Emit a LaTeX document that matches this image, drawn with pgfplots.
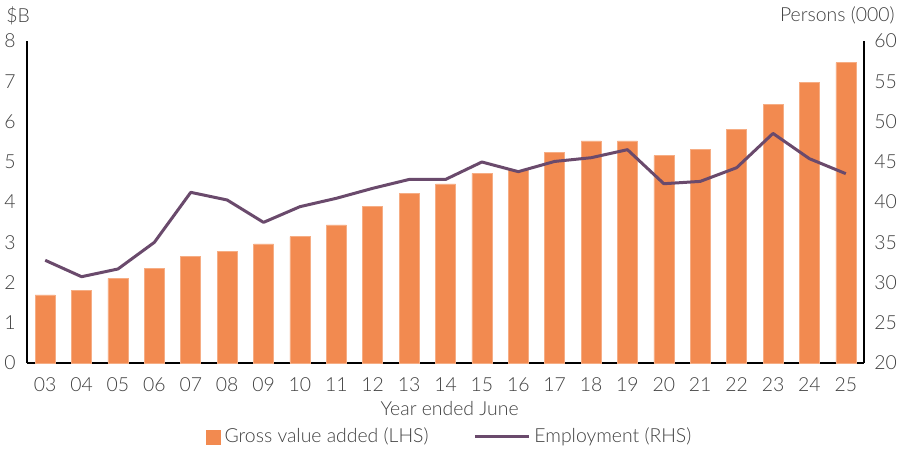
\documentclass[border=0pt]{standalone}
\usepackage{fontspec}
\setmainfont{Lato}[UprightFont={* Light}]
\usepackage{pgfplots}
\pgfplotsset{compat=1.18}
\usepackage{pgfplotstable}

\definecolor{gvaorange}{HTML}{F28A50}
\definecolor{emppurple}{HTML}{6A4A6C}
\definecolor{labelgrey}{HTML}{404040}

% Year ended June: x = 0 for 2003 ... 22 for 2025
% gva = gross value added ($B), emp = employment (persons, 000)
\pgfplotstableread{
x  gva   emp
0  1.69  32.76
1  1.80  30.72
2  2.10  31.68
3  2.35  34.99
4  2.65  41.20
5  2.78  40.25
6  2.96  37.47
7  3.14  39.42
8  3.43  40.46
9  3.90  41.70
10 4.22  42.80
11 4.45  42.80
12 4.71  44.97
13 4.78  43.77
14 5.23  45.04
15 5.52  45.50
16 5.52  46.50
17 5.15  42.27
18 5.30  42.56
19 5.80  44.26
20 6.43  48.52
21 6.98  45.38
22 7.46  43.52
}\datatable

\newcommand{\chartfont}{\fontsize{9.7}{11.5}\selectfont}

\begin{document}
\chartfont
\begin{tikzpicture}
\path[use as bounding box] (0,0) rectangle (450pt,225pt);

\pgfplotsset{
  common/.style={
    scale only axis,
    width=418.5pt, height=161pt,
    at={(13.5pt,43.5pt)}, anchor=south west,
    xmin=-0.5, xmax=22.5,
    major tick length=0pt,
    axis line style={black, line width=0.85pt},
    tick label style={font=\chartfont, text=labelgrey},
    /pgf/number format/assume math mode=true,
  }
}

\begin{axis}[
  common,
  ymin=0, ymax=8,
  ytick={0,1,...,8},
  axis y line*=left,
  axis x line*=bottom,
  xtick=data,
  xticklabels={03,04,05,06,07,08,09,10,11,12,13,14,15,16,17,18,19,20,21,22,23,24,25},
  xticklabel style={yshift=-3.8pt},
  yticklabel style={xshift=-2.25pt},
  ybar, bar width=10pt,
  clip=false,
]
\addplot[fill=gvaorange, draw=gvaorange!70!white, line width=0.3pt] table[x=x, y=gva] {\datatable};
\node[anchor=base west, text=labelgrey, inner sep=0pt] at (axis description cs:-0.0251,1.056) {\$B};
\node[anchor=base, text=labelgrey, inner sep=0pt] at (axis description cs:0.505,-0.1615) {Year ended June};
\end{axis}

\begin{axis}[
  common,
  ymin=20, ymax=60,
  ytick={20,25,...,60},
  axis y line*=right,
  axis x line=none,
  yticklabel style={xshift=1.75pt},
  clip=false,
  legend columns=2,
  legend style={
    at={(axis description cs:0.506,-0.2298)}, anchor=center,
    draw=none, fill=none,
    font=\chartfont, text=labelgrey,
    /tikz/every even column/.append style={column sep=20.5pt},
  },
]
\addlegendimage{legend image code/.code={\fill[gvaorange] (0pt,-3.5pt) rectangle (7pt,3.5pt);}}
\addlegendentry{Gross value added (LHS)}
\addplot[emppurple, line width=1.5pt, line join=round,
  legend image code/.code={\draw[emppurple, line width=1.5pt] (0pt,0pt) -- (27pt,0pt);}]
  table[x=x, y=emp] {\datatable};
\addlegendentry{Employment (RHS)}
\node[anchor=base east, text=labelgrey, inner sep=0pt] at (axis description cs:1.037,1.062) {Persons (000)};
\end{axis}
\end{tikzpicture}
\end{document}
